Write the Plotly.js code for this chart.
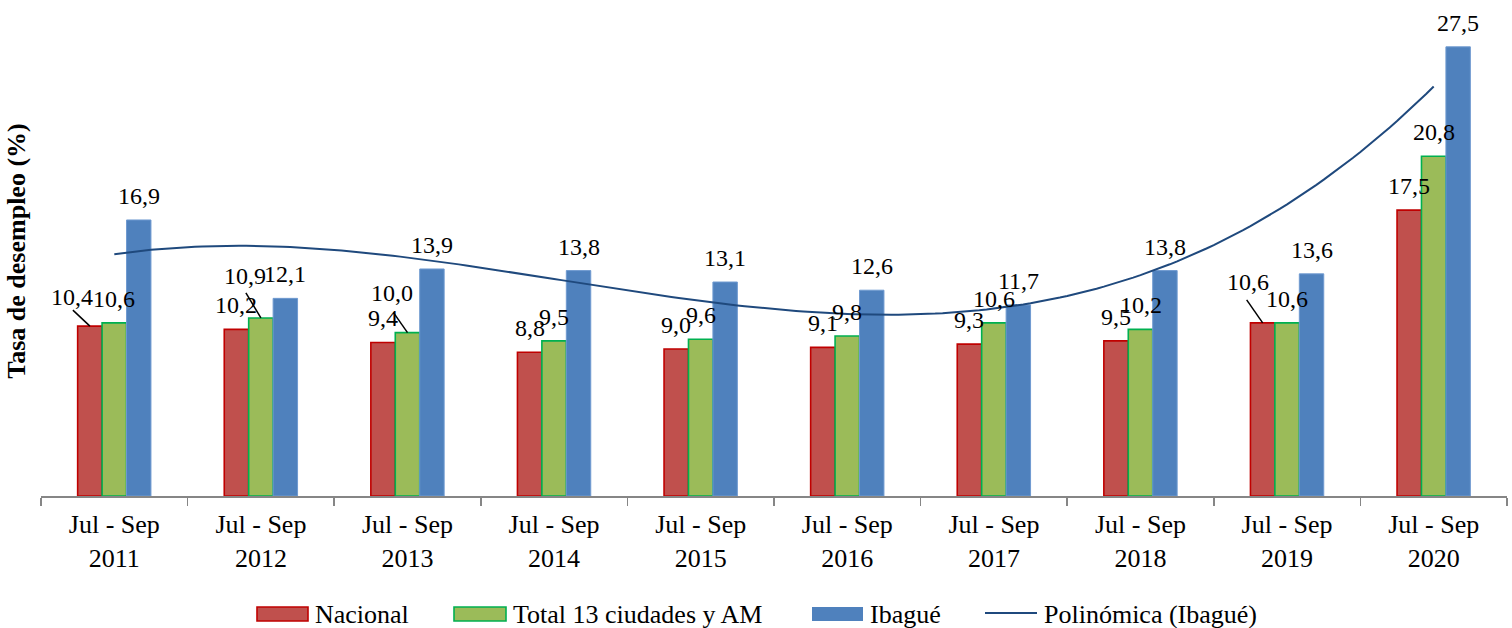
<!DOCTYPE html>
<html>
<head>
<meta charset="utf-8">
<script src="https://cdn.plot.ly/plotly-3.0.1.min.js"></script>
<style>html,body{margin:0;padding:0;background:#fff;}#chart{width:1512px;height:628px;}</style>
</head>
<body>
<div id="chart"></div>
<script>
// ---- data ----
var periods = ["Jul - Sep 2011","Jul - Sep 2012","Jul - Sep 2013","Jul - Sep 2014","Jul - Sep 2015","Jul - Sep 2016","Jul - Sep 2017","Jul - Sep 2018","Jul - Sep 2019","Jul - Sep 2020"];
var tickLabels = ["Jul - Sep<br>2011","Jul - Sep<br>2012","Jul - Sep<br>2013","Jul - Sep<br>2014","Jul - Sep<br>2015","Jul - Sep<br>2016","Jul - Sep<br>2017","Jul - Sep<br>2018","Jul - Sep<br>2019","Jul - Sep<br>2020"];
var nacional = [10.4, 10.2, 9.4, 8.8, 9.0, 9.1, 9.3, 9.5, 10.6, 17.5];
var total13 = [10.6, 10.9, 10.0, 9.5, 9.6, 9.8, 10.6, 10.2, 10.6, 20.8];
var ibague = [16.9, 12.1, 13.9, 13.8, 13.1, 12.6, 11.7, 13.8, 13.6, 27.5];
var seriesNames = ["Nacional", "Total 13 ciudades y AM", "Ibagué", "Polinómica (Ibagué)"];
var yTitle = "Tasa de desempleo (%)";

// ---- styles ----
var fills = ["#C0504D", "#9BBB59", "#4F81BD"];
var borders = ["#C00000", "#00B050", "#6F9AD0"];
var trendColor = "#1F497D";
var FONT = "Liberation Serif, Times New Roman, serif";

// plot area geometry (pixels)
var L = 41, T = 6, W = 1466, H = 490;
function px(x) { return (x - L) / W; }
function py(y) { return (T + H - y) / H; }

// ---- cubic least-squares trendline (Excel "Polinómica", order 3) ----
function polyfit(xs, ys, deg) {
  var n = deg + 1, A = [], b = [];
  for (var i = 0; i < n; i++) {
    A.push([]); var s = 0;
    for (var j = 0; j < n; j++) {
      var t = 0; for (var k = 0; k < xs.length; k++) t += Math.pow(xs[k], i + j);
      A[i].push(t);
    }
    for (var k2 = 0; k2 < xs.length; k2++) s += ys[k2] * Math.pow(xs[k2], i);
    b.push(s);
  }
  for (var c = 0; c < n; c++) {
    var p = c;
    for (var r = c + 1; r < n; r++) if (Math.abs(A[r][c]) > Math.abs(A[p][c])) p = r;
    var tmp = A[c]; A[c] = A[p]; A[p] = tmp; var tb = b[c]; b[c] = b[p]; b[p] = tb;
    for (var r2 = c + 1; r2 < n; r2++) {
      var f = A[r2][c] / A[c][c];
      for (var cc = c; cc < n; cc++) A[r2][cc] -= f * A[c][cc];
      b[r2] -= f * b[c];
    }
  }
  var coef = new Array(n);
  for (var r3 = n - 1; r3 >= 0; r3--) {
    var s2 = b[r3];
    for (var cc2 = r3 + 1; cc2 < n; cc2++) s2 -= A[r3][cc2] * coef[cc2];
    coef[r3] = s2 / A[r3][r3];
  }
  return coef;
}
var idx = periods.map(function (_, i) { return i; });
var coef = polyfit(idx, ibague, 3);
var trendX = [], trendY = [];
for (var s = 0; s <= 180; s++) {
  var xv = 9 * s / 180; trendX.push(xv);
  var yv = 0; for (var d = 0; d < coef.length; d++) yv += coef[d] * Math.pow(xv, d);
  trendY.push(yv);
}

// ---- traces ----
var seriesVals = [nacional, total13, ibague];
var traces = seriesVals.map(function (vals, j) {
  return {
    type: "bar", x: periods, y: vals, name: seriesNames[j],
    marker: { color: fills[j], line: { color: borders[j], width: j === 2 ? 1 : 1.6 } },
    showlegend: false, hoverinfo: "skip"
  };
});
traces.push({
  type: "scatter", mode: "lines", x: trendX, y: trendY, xaxis: "x2", yaxis: "y",
  name: seriesNames[3], line: { color: trendColor, width: 2 }, showlegend: false, hoverinfo: "skip"
});

// ---- data labels ----
var barW = 1 / 6;
var fmt = function (v) { return v.toFixed(1).replace(".", ","); };
// special label offsets (pixels) with leader lines: key "series-index"
var special = {
  "0-0": { dx: -18, dy: 29, line: [-17, -16] },
  "1-1": { dx: -16, dy: 42, line: [-15, -25] },
  "1-2": { dx: -16, dy: 40, line: [-14, -20] },
  "0-8": { dx: -15, dy: 41, line: [-16, -23] }
};
var annotations = [], shapes = [];
seriesVals.forEach(function (vals, j) {
  vals.forEach(function (v, i) {
    var xPos = i + (j - 1) * barW;
    var sp = special[j + "-" + i];
    annotations.push({
      xref: "x2", yref: "y", x: xPos, y: v, text: fmt(v), showarrow: false,
      xanchor: "center", yanchor: "middle",
      xshift: sp ? sp.dx : 0, yshift: sp ? sp.dy : 24,
      font: { family: FONT, size: 24, color: "#000" }
    });
    if (sp) {
      shapes.push({
        type: "line", xref: "x2", yref: "y", xsizemode: "pixel", ysizemode: "pixel",
        xanchor: xPos, yanchor: v, x0: sp.line[0], y0: -sp.line[1], x1: 0, y1: 0,
        line: { color: "#000", width: 1.5 }
      });
    }
  });
});

// ---- custom legend (Excel style) ----
var legendY = 614;
var legendItems = [
  { kind: "rect", x0: 257, x1: 308, tx: 313 },
  { kind: "rect", x0: 454, x1: 506, tx: 511 },
  { kind: "rect", x0: 812, x1: 863, tx: 868 },
  { kind: "line", x0: 985, x1: 1037, tx: 1042 }
];
legendItems.forEach(function (it, k) {
  if (it.kind === "rect") {
    shapes.push({
      type: "rect", xref: "paper", yref: "paper",
      x0: px(it.x0), x1: px(it.x1), y0: py(legendY - 7), y1: py(legendY + 7),
      fillcolor: fills[k], line: { color: borders[k], width: k === 2 ? 0 : 1.6 }
    });
  } else {
    shapes.push({
      type: "line", xref: "paper", yref: "paper",
      x0: px(it.x0), x1: px(it.x1), y0: py(legendY - 1), y1: py(legendY - 1),
      line: { color: trendColor, width: 2 }
    });
  }
  annotations.push({
    xref: "paper", yref: "paper", x: px(it.tx), y: py(legendY), text: seriesNames[k],
    showarrow: false, xanchor: "left", yanchor: "middle",
    font: { family: FONT, size: 26, color: "#000" }
  });
});

var layout = {
  width: 1512, height: 628,
  margin: { l: L, r: 1512 - L - W, t: T, b: 628 - T - H, pad: 0 },
  paper_bgcolor: "#fff", plot_bgcolor: "#fff",
  barmode: "group", bargap: 0.5, bargroupgap: 0,
  showlegend: false,
  font: { family: FONT, color: "#000" },
  xaxis: {
    type: "category", categoryorder: "array", categoryarray: periods,
    tickvals: periods, ticktext: tickLabels, tickson: "boundaries",
    ticks: "outside", ticklen: 8, tickwidth: 1.5, tickcolor: "#868686",
    ticklabelstandoff: 4,
    showline: true, linecolor: "#868686", linewidth: 1.5,
    showgrid: false, zeroline: false, range: [-0.5, 9.5],
    tickfont: { family: FONT, size: 26, color: "#000" }, automargin: false
  },
  xaxis2: { overlaying: "x", range: [-0.5, 9.5], visible: false, fixedrange: true },
  yaxis: {
    range: [0, 30], showgrid: false, zeroline: false, showline: false,
    showticklabels: false, ticks: "", automargin: false,
    title: { text: yTitle, standoff: 6, font: { family: FONT, size: 26, color: "#000", weight: "bold" } }
  },
  annotations: annotations,
  shapes: shapes
};

Plotly.newPlot("chart", traces, layout, { staticPlot: true, displayModeBar: false });
</script>
</body>
</html>
